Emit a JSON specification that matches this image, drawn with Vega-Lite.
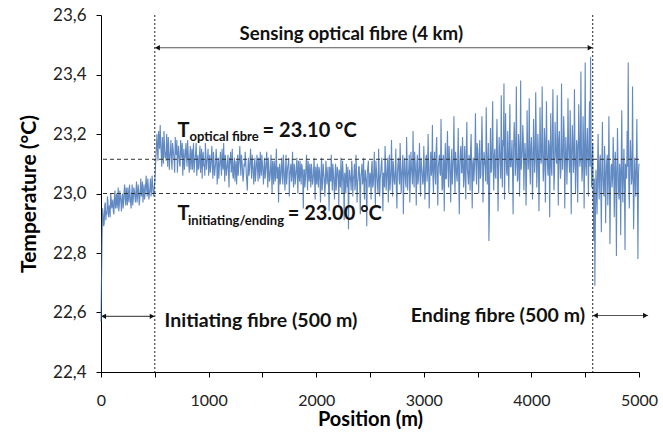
{
  "$schema": "https://vega.github.io/schema/vega-lite/v6.json",
  "autosize": {"type": "none"},
  "width": 538,
  "height": 357,
  "padding": {"left": 101, "top": 15, "right": 24, "bottom": 62},
  "config": {"view": {"stroke": null}, "font": "Lato"},
  "layer": [
    {
      "data": {"values": [
{"pos":0,"temp":22.57},{"pos":10,"temp":22.86},{"pos":20,"temp":22.93},{"pos":30,"temp":22.90},{"pos":40,"temp":22.97},{"pos":50,"temp":22.94},{"pos":60,"temp":22.99},{"pos":70,"temp":22.92},{"pos":80,"temp":22.96},{"pos":90,"temp":23.00},
{"pos":100,"temp":22.95},{"pos":110,"temp":22.98},{"pos":120,"temp":22.93},{"pos":130,"temp":23.01},{"pos":140,"temp":22.97},{"pos":150,"temp":22.95},{"pos":160,"temp":23.02},{"pos":170,"temp":22.96},{"pos":180,"temp":22.99},{"pos":190,"temp":22.94},
{"pos":200,"temp":23.00},{"pos":210,"temp":22.97},{"pos":220,"temp":23.03},{"pos":230,"temp":22.96},{"pos":240,"temp":22.99},{"pos":250,"temp":23.02},{"pos":260,"temp":22.97},{"pos":270,"temp":23.00},{"pos":280,"temp":22.95},{"pos":290,"temp":23.03},
{"pos":300,"temp":22.98},{"pos":310,"temp":23.01},{"pos":320,"temp":22.97},{"pos":330,"temp":23.04},{"pos":340,"temp":22.99},{"pos":350,"temp":23.01},{"pos":360,"temp":22.98},{"pos":370,"temp":23.05},{"pos":380,"temp":23.00},{"pos":390,"temp":22.97},
{"pos":400,"temp":23.03},{"pos":410,"temp":23.00},{"pos":420,"temp":23.06},{"pos":430,"temp":22.99},{"pos":440,"temp":23.02},{"pos":450,"temp":23.00},{"pos":460,"temp":23.05},{"pos":470,"temp":23.01},{"pos":480,"temp":23.03},{"pos":490,"temp":22.99},
{"pos":500,"temp":23.04},{"pos":510,"temp":23.12},{"pos":520,"temp":23.20},{"pos":530,"temp":23.11},{"pos":540,"temp":23.18},{"pos":550,"temp":23.23},{"pos":560,"temp":23.13},{"pos":570,"temp":23.19},{"pos":580,"temp":23.10},{"pos":590,"temp":23.17},
{"pos":600,"temp":23.14},{"pos":610,"temp":23.20},{"pos":620,"temp":23.09},{"pos":630,"temp":23.16},{"pos":640,"temp":23.12},{"pos":650,"temp":23.18},{"pos":660,"temp":23.08},{"pos":670,"temp":23.15},{"pos":680,"temp":23.11},{"pos":690,"temp":23.19},
{"pos":700,"temp":23.13},{"pos":710,"temp":23.07},{"pos":720,"temp":23.16},{"pos":730,"temp":23.10},{"pos":740,"temp":23.18},{"pos":750,"temp":23.12},{"pos":760,"temp":23.06},{"pos":770,"temp":23.15},{"pos":780,"temp":23.11},{"pos":790,"temp":23.17},
{"pos":800,"temp":23.09},{"pos":810,"temp":23.14},{"pos":820,"temp":23.07},{"pos":830,"temp":23.16},{"pos":840,"temp":23.12},{"pos":850,"temp":23.08},{"pos":860,"temp":23.17},{"pos":870,"temp":23.10},{"pos":880,"temp":23.14},{"pos":890,"temp":23.06},
{"pos":900,"temp":23.13},{"pos":910,"temp":23.09},{"pos":920,"temp":23.16},{"pos":930,"temp":23.11},{"pos":940,"temp":23.05},{"pos":950,"temp":23.14},{"pos":960,"temp":23.10},{"pos":970,"temp":23.17},{"pos":980,"temp":23.08},{"pos":990,"temp":23.12},
{"pos":1000,"temp":23.06},{"pos":1010,"temp":23.13},{"pos":1020,"temp":23.09},{"pos":1030,"temp":23.16},{"pos":1040,"temp":23.05},{"pos":1050,"temp":23.11},{"pos":1060,"temp":23.08},{"pos":1070,"temp":23.15},{"pos":1080,"temp":23.03},{"pos":1090,"temp":23.12},
{"pos":1100,"temp":23.09},{"pos":1110,"temp":23.14},{"pos":1120,"temp":23.06},{"pos":1130,"temp":23.10},{"pos":1140,"temp":23.17},{"pos":1150,"temp":23.04},{"pos":1160,"temp":23.11},{"pos":1170,"temp":23.08},{"pos":1180,"temp":23.13},{"pos":1190,"temp":23.02},
{"pos":1200,"temp":23.10},{"pos":1210,"temp":23.07},{"pos":1220,"temp":23.15},{"pos":1230,"temp":23.05},{"pos":1240,"temp":23.12},{"pos":1250,"temp":23.08},{"pos":1260,"temp":23.03},{"pos":1270,"temp":23.13},{"pos":1280,"temp":23.09},{"pos":1290,"temp":23.16},
{"pos":1300,"temp":23.06},{"pos":1310,"temp":23.11},{"pos":1320,"temp":23.04},{"pos":1330,"temp":23.10},{"pos":1340,"temp":23.14},{"pos":1350,"temp":23.07},{"pos":1360,"temp":23.01},{"pos":1370,"temp":23.12},{"pos":1380,"temp":23.08},{"pos":1390,"temp":23.15},
{"pos":1400,"temp":23.05},{"pos":1410,"temp":23.10},{"pos":1420,"temp":23.03},{"pos":1430,"temp":23.12},{"pos":1440,"temp":23.07},{"pos":1450,"temp":23.13},{"pos":1460,"temp":23.04},{"pos":1470,"temp":23.09},{"pos":1480,"temp":23.14},{"pos":1490,"temp":23.06},
{"pos":1500,"temp":23.10},{"pos":1510,"temp":23.03},{"pos":1520,"temp":23.12},{"pos":1530,"temp":23.07},{"pos":1540,"temp":23.14},{"pos":1550,"temp":23.02},{"pos":1560,"temp":23.09},{"pos":1570,"temp":23.05},{"pos":1580,"temp":23.13},{"pos":1590,"temp":23.00},
{"pos":1600,"temp":23.08},{"pos":1610,"temp":23.11},{"pos":1620,"temp":23.04},{"pos":1630,"temp":23.15},{"pos":1640,"temp":23.06},{"pos":1650,"temp":22.97},{"pos":1660,"temp":23.10},{"pos":1670,"temp":23.05},{"pos":1680,"temp":23.12},{"pos":1690,"temp":23.03},
{"pos":1700,"temp":23.09},{"pos":1710,"temp":23.01},{"pos":1720,"temp":23.13},{"pos":1730,"temp":23.06},{"pos":1740,"temp":23.10},{"pos":1750,"temp":22.99},{"pos":1760,"temp":23.08},{"pos":1770,"temp":23.04},{"pos":1780,"temp":23.14},{"pos":1790,"temp":23.02},
{"pos":1800,"temp":23.09},{"pos":1810,"temp":23.06},{"pos":1820,"temp":23.12},{"pos":1830,"temp":23.00},{"pos":1840,"temp":23.07},{"pos":1850,"temp":23.11},{"pos":1860,"temp":23.03},{"pos":1870,"temp":23.09},{"pos":1880,"temp":22.95},{"pos":1890,"temp":23.08},
{"pos":1900,"temp":23.05},{"pos":1910,"temp":23.13},{"pos":1920,"temp":23.01},{"pos":1930,"temp":23.07},{"pos":1940,"temp":23.10},{"pos":1950,"temp":23.02},{"pos":1960,"temp":23.08},{"pos":1970,"temp":23.04},{"pos":1980,"temp":23.12},{"pos":1990,"temp":22.98},
{"pos":2000,"temp":23.06},{"pos":2010,"temp":23.10},{"pos":2020,"temp":23.02},{"pos":2030,"temp":23.08},{"pos":2040,"temp":22.97},{"pos":2050,"temp":23.12},{"pos":2060,"temp":23.04},{"pos":2070,"temp":23.07},{"pos":2080,"temp":22.99},{"pos":2090,"temp":23.11},
{"pos":2100,"temp":23.03},{"pos":2110,"temp":23.09},{"pos":2120,"temp":22.94},{"pos":2130,"temp":23.06},{"pos":2140,"temp":23.13},{"pos":2150,"temp":23.01},{"pos":2160,"temp":23.07},{"pos":2170,"temp":22.98},{"pos":2180,"temp":23.10},{"pos":2190,"temp":23.04},
{"pos":2200,"temp":23.08},{"pos":2210,"temp":22.96},{"pos":2220,"temp":23.06},{"pos":2230,"temp":23.12},{"pos":2240,"temp":23.00},{"pos":2250,"temp":23.07},{"pos":2260,"temp":22.91},{"pos":2270,"temp":23.05},{"pos":2280,"temp":23.10},{"pos":2290,"temp":23.02},
{"pos":2300,"temp":22.88},{"pos":2310,"temp":23.08},{"pos":2320,"temp":23.04},{"pos":2330,"temp":23.11},{"pos":2340,"temp":22.99},{"pos":2350,"temp":23.06},{"pos":2360,"temp":23.01},{"pos":2370,"temp":23.13},{"pos":2380,"temp":22.97},{"pos":2390,"temp":23.05},
{"pos":2400,"temp":23.09},{"pos":2410,"temp":22.93},{"pos":2420,"temp":23.07},{"pos":2430,"temp":23.03},{"pos":2440,"temp":23.12},{"pos":2450,"temp":22.98},{"pos":2460,"temp":23.06},{"pos":2470,"temp":22.89},{"pos":2480,"temp":23.09},{"pos":2490,"temp":23.02},
{"pos":2500,"temp":23.07},{"pos":2510,"temp":22.98},{"pos":2520,"temp":23.11},{"pos":2530,"temp":23.03},{"pos":2540,"temp":23.14},{"pos":2550,"temp":22.96},{"pos":2560,"temp":23.08},{"pos":2570,"temp":23.02},{"pos":2580,"temp":23.15},{"pos":2590,"temp":22.99},
{"pos":2600,"temp":23.07},{"pos":2610,"temp":23.12},{"pos":2620,"temp":22.94},{"pos":2630,"temp":23.06},{"pos":2640,"temp":23.16},{"pos":2650,"temp":23.01},{"pos":2660,"temp":23.09},{"pos":2670,"temp":22.97},{"pos":2680,"temp":23.13},{"pos":2690,"temp":23.04},
{"pos":2700,"temp":23.18},{"pos":2710,"temp":22.99},{"pos":2720,"temp":23.08},{"pos":2730,"temp":23.03},{"pos":2740,"temp":23.15},{"pos":2750,"temp":22.95},{"pos":2760,"temp":23.10},{"pos":2770,"temp":23.05},{"pos":2780,"temp":23.17},{"pos":2790,"temp":23.00},
{"pos":2800,"temp":23.09},{"pos":2810,"temp":22.93},{"pos":2820,"temp":23.12},{"pos":2830,"temp":23.04},{"pos":2840,"temp":23.19},{"pos":2850,"temp":23.01},{"pos":2860,"temp":23.08},{"pos":2870,"temp":22.97},{"pos":2880,"temp":23.14},{"pos":2890,"temp":23.06},
{"pos":2900,"temp":23.21},{"pos":2910,"temp":23.02},{"pos":2920,"temp":23.10},{"pos":2930,"temp":22.96},{"pos":2940,"temp":23.13},{"pos":2950,"temp":23.05},{"pos":2960,"temp":23.17},{"pos":2970,"temp":22.99},{"pos":2980,"temp":23.09},{"pos":2990,"temp":23.03},
{"pos":3000,"temp":23.16},{"pos":3010,"temp":22.98},{"pos":3020,"temp":23.12},{"pos":3030,"temp":23.04},{"pos":3040,"temp":23.20},{"pos":3050,"temp":22.95},{"pos":3060,"temp":23.10},{"pos":3070,"temp":23.06},{"pos":3080,"temp":23.23},{"pos":3090,"temp":23.00},
{"pos":3100,"temp":23.14},{"pos":3110,"temp":23.03},{"pos":3120,"temp":23.19},{"pos":3130,"temp":22.96},{"pos":3140,"temp":23.11},{"pos":3150,"temp":23.07},{"pos":3160,"temp":23.25},{"pos":3170,"temp":23.01},{"pos":3180,"temp":23.13},{"pos":3190,"temp":22.94},
{"pos":3200,"temp":23.17},{"pos":3210,"temp":23.05},{"pos":3220,"temp":23.21},{"pos":3230,"temp":23.02},{"pos":3240,"temp":23.12},{"pos":3250,"temp":22.97},{"pos":3260,"temp":23.15},{"pos":3270,"temp":23.08},{"pos":3280,"temp":23.26},{"pos":3290,"temp":23.00},
{"pos":3300,"temp":23.11},{"pos":3310,"temp":23.04},{"pos":3320,"temp":23.22},{"pos":3330,"temp":22.93},{"pos":3340,"temp":23.14},{"pos":3350,"temp":23.07},{"pos":3360,"temp":23.19},{"pos":3370,"temp":23.02},{"pos":3380,"temp":23.16},{"pos":3390,"temp":22.98},
{"pos":3400,"temp":23.24},{"pos":3410,"temp":23.06},{"pos":3420,"temp":23.13},{"pos":3430,"temp":23.01},{"pos":3440,"temp":23.20},{"pos":3450,"temp":22.95},{"pos":3460,"temp":23.12},{"pos":3470,"temp":23.08},{"pos":3480,"temp":23.27},{"pos":3490,"temp":23.03},
{"pos":3500,"temp":23.15},{"pos":3510,"temp":23.00},{"pos":3520,"temp":23.18},{"pos":3530,"temp":23.06},{"pos":3540,"temp":23.26},{"pos":3550,"temp":22.97},{"pos":3560,"temp":23.14},{"pos":3570,"temp":23.09},{"pos":3580,"temp":23.29},{"pos":3590,"temp":23.03},
{"pos":3600,"temp":23.17},{"pos":3610,"temp":22.95},{"pos":3620,"temp":23.22},{"pos":3630,"temp":23.08},{"pos":3640,"temp":23.31},{"pos":3650,"temp":23.01},{"pos":3660,"temp":23.15},{"pos":3670,"temp":23.05},{"pos":3680,"temp":23.25},{"pos":3690,"temp":22.94},
{"pos":3700,"temp":23.19},{"pos":3710,"temp":23.10},{"pos":3720,"temp":23.33},{"pos":3730,"temp":23.02},{"pos":3740,"temp":23.16},{"pos":3750,"temp":22.98},{"pos":3760,"temp":23.27},{"pos":3770,"temp":23.07},{"pos":3780,"temp":23.21},{"pos":3790,"temp":23.00},
{"pos":3800,"temp":23.30},{"pos":3810,"temp":23.09},{"pos":3820,"temp":23.18},{"pos":3830,"temp":22.93},{"pos":3840,"temp":23.24},{"pos":3850,"temp":23.06},{"pos":3860,"temp":23.36},{"pos":3870,"temp":23.04},{"pos":3880,"temp":23.20},{"pos":3890,"temp":22.99},
{"pos":3900,"temp":23.38},{"pos":3910,"temp":23.11},{"pos":3920,"temp":23.23},{"pos":3930,"temp":23.01},{"pos":3940,"temp":23.17},{"pos":3950,"temp":22.96},{"pos":3960,"temp":23.28},{"pos":3970,"temp":23.08},{"pos":3980,"temp":23.32},{"pos":3990,"temp":23.03},
{"pos":4000,"temp":23.19},{"pos":4010,"temp":22.98},{"pos":4020,"temp":23.25},{"pos":4030,"temp":23.07},{"pos":4040,"temp":23.34},{"pos":4050,"temp":23.02},{"pos":4060,"temp":23.20},{"pos":4070,"temp":22.94},{"pos":4080,"temp":23.29},{"pos":4090,"temp":23.10},
{"pos":4100,"temp":23.36},{"pos":4110,"temp":23.04},{"pos":4120,"temp":23.22},{"pos":4130,"temp":22.97},{"pos":4140,"temp":23.31},{"pos":4150,"temp":23.09},{"pos":4160,"temp":23.18},{"pos":4170,"temp":22.92},{"pos":4180,"temp":23.27},{"pos":4190,"temp":23.06},
{"pos":4200,"temp":23.35},{"pos":4210,"temp":23.01},{"pos":4220,"temp":23.24},{"pos":4230,"temp":23.12},{"pos":4240,"temp":23.33},{"pos":4250,"temp":22.96},{"pos":4260,"temp":23.21},{"pos":4270,"temp":23.05},{"pos":4280,"temp":23.37},{"pos":4290,"temp":23.08},
{"pos":4300,"temp":23.26},{"pos":4310,"temp":22.95},{"pos":4320,"temp":23.19},{"pos":4330,"temp":23.03},{"pos":4340,"temp":23.32},{"pos":4350,"temp":23.11},{"pos":4360,"temp":23.28},{"pos":4370,"temp":22.93},{"pos":4380,"temp":23.23},{"pos":4390,"temp":23.07},
{"pos":4400,"temp":23.35},{"pos":4410,"temp":23.00},{"pos":4420,"temp":23.18},{"pos":4430,"temp":22.97},{"pos":4440,"temp":23.30},{"pos":4450,"temp":23.09},{"pos":4460,"temp":23.41},{"pos":4470,"temp":23.04},{"pos":4480,"temp":23.26},{"pos":4490,"temp":22.95},
{"pos":4500,"temp":23.44},{"pos":4510,"temp":23.06},{"pos":4520,"temp":23.22},{"pos":4530,"temp":22.99},{"pos":4540,"temp":23.31},{"pos":4550,"temp":23.46},{"pos":4560,"temp":23.02},{"pos":4570,"temp":23.17},{"pos":4580,"temp":22.84},{"pos":4590,"temp":22.69},
{"pos":4600,"temp":23.08},{"pos":4610,"temp":22.93},{"pos":4620,"temp":23.20},{"pos":4630,"temp":22.98},{"pos":4640,"temp":23.13},{"pos":4650,"temp":22.87},{"pos":4660,"temp":23.24},{"pos":4670,"temp":23.01},{"pos":4680,"temp":23.16},{"pos":4690,"temp":22.90},
{"pos":4700,"temp":23.11},{"pos":4710,"temp":22.96},{"pos":4720,"temp":23.26},{"pos":4730,"temp":22.83},{"pos":4740,"temp":23.09},{"pos":4750,"temp":23.02},{"pos":4760,"temp":23.19},{"pos":4770,"temp":22.92},{"pos":4780,"temp":23.14},{"pos":4790,"temp":22.79},
{"pos":4800,"temp":23.22},{"pos":4810,"temp":23.00},{"pos":4820,"temp":23.10},{"pos":4830,"temp":22.86},{"pos":4840,"temp":23.28},{"pos":4850,"temp":22.97},{"pos":4860,"temp":23.15},{"pos":4870,"temp":22.81},{"pos":4880,"temp":23.07},{"pos":4890,"temp":23.21},
{"pos":4900,"temp":23.44},{"pos":4910,"temp":22.95},{"pos":4920,"temp":23.18},{"pos":4930,"temp":23.03},{"pos":4940,"temp":23.36},{"pos":4950,"temp":22.88},{"pos":4960,"temp":23.12},{"pos":4970,"temp":22.99},{"pos":4980,"temp":23.25},{"pos":4990,"temp":22.78},
{"pos":5000,"temp":23.10},
{"pos":5,"temp":22.72},{"pos":15,"temp":22.95},{"pos":25,"temp":22.89},{"pos":35,"temp":22.96},{"pos":45,"temp":22.91},{"pos":55,"temp":22.93},{"pos":65,"temp":22.97},{"pos":75,"temp":22.95},{"pos":85,"temp":22.92},{"pos":95,"temp":22.98},
{"pos":105,"temp":22.96},{"pos":115,"temp":22.94},{"pos":125,"temp":22.99},{"pos":135,"temp":22.95},{"pos":145,"temp":23.00},{"pos":155,"temp":22.98},{"pos":165,"temp":22.94},{"pos":175,"temp":23.01},{"pos":185,"temp":22.97},{"pos":195,"temp":22.99},
{"pos":205,"temp":22.95},{"pos":215,"temp":23.01},{"pos":225,"temp":22.98},{"pos":235,"temp":23.02},{"pos":245,"temp":22.96},{"pos":255,"temp":22.99},{"pos":265,"temp":23.03},{"pos":275,"temp":22.97},{"pos":285,"temp":23.00},{"pos":295,"temp":22.96},
{"pos":305,"temp":23.02},{"pos":315,"temp":22.99},{"pos":325,"temp":23.01},{"pos":335,"temp":22.97},{"pos":345,"temp":23.03},{"pos":355,"temp":22.96},{"pos":365,"temp":23.01},{"pos":375,"temp":22.99},{"pos":385,"temp":23.04},{"pos":395,"temp":23.00},
{"pos":405,"temp":22.98},{"pos":415,"temp":23.03},{"pos":425,"temp":23.01},{"pos":435,"temp":23.05},{"pos":445,"temp":22.98},{"pos":455,"temp":23.02},{"pos":465,"temp":22.99},{"pos":475,"temp":23.06},{"pos":485,"temp":23.00},{"pos":495,"temp":23.02},
{"pos":505,"temp":23.08},{"pos":515,"temp":23.16},{"pos":525,"temp":23.14},{"pos":535,"temp":23.21},{"pos":545,"temp":23.15},{"pos":555,"temp":23.17},{"pos":565,"temp":23.09},{"pos":575,"temp":23.14},{"pos":585,"temp":23.21},{"pos":595,"temp":23.12},
{"pos":605,"temp":23.11},{"pos":615,"temp":23.15},{"pos":625,"temp":23.19},{"pos":635,"temp":23.08},{"pos":645,"temp":23.14},{"pos":655,"temp":23.11},{"pos":665,"temp":23.17},{"pos":675,"temp":23.13},{"pos":685,"temp":23.07},{"pos":695,"temp":23.14},
{"pos":705,"temp":23.18},{"pos":715,"temp":23.12},{"pos":725,"temp":23.13},{"pos":735,"temp":23.09},{"pos":745,"temp":23.15},{"pos":755,"temp":23.17},{"pos":765,"temp":23.11},{"pos":775,"temp":23.08},{"pos":785,"temp":23.14},{"pos":795,"temp":23.12},
{"pos":805,"temp":23.18},{"pos":815,"temp":23.10},{"pos":825,"temp":23.12},{"pos":835,"temp":23.08},{"pos":845,"temp":23.15},{"pos":855,"temp":23.13},{"pos":865,"temp":23.07},{"pos":875,"temp":23.12},{"pos":885,"temp":23.17},{"pos":895,"temp":23.10},
{"pos":905,"temp":23.08},{"pos":915,"temp":23.13},{"pos":925,"temp":23.07},{"pos":935,"temp":23.15},{"pos":945,"temp":23.12},{"pos":955,"temp":23.09},{"pos":965,"temp":23.06},{"pos":975,"temp":23.13},{"pos":985,"temp":23.11},{"pos":995,"temp":23.15},
{"pos":1005,"temp":23.10},{"pos":1015,"temp":23.07},{"pos":1025,"temp":23.12},{"pos":1035,"temp":23.09},{"pos":1045,"temp":23.14},{"pos":1055,"temp":23.06},{"pos":1065,"temp":23.10},{"pos":1075,"temp":23.12},{"pos":1085,"temp":23.08},{"pos":1095,"temp":23.05},
{"pos":1105,"temp":23.11},{"pos":1115,"temp":23.09},{"pos":1125,"temp":23.15},{"pos":1135,"temp":23.08},{"pos":1145,"temp":23.10},{"pos":1155,"temp":23.13},{"pos":1165,"temp":23.06},{"pos":1175,"temp":23.10},{"pos":1185,"temp":23.07},{"pos":1195,"temp":23.12},
{"pos":1205,"temp":23.14},{"pos":1215,"temp":23.09},{"pos":1225,"temp":23.06},{"pos":1235,"temp":23.10},{"pos":1245,"temp":23.04},{"pos":1255,"temp":23.11},{"pos":1265,"temp":23.08},{"pos":1275,"temp":23.06},{"pos":1285,"temp":23.12},{"pos":1295,"temp":23.10},
{"pos":1305,"temp":23.13},{"pos":1315,"temp":23.08},{"pos":1325,"temp":23.06},{"pos":1335,"temp":23.09},{"pos":1345,"temp":23.11},{"pos":1355,"temp":23.04},{"pos":1365,"temp":23.08},{"pos":1375,"temp":23.06},{"pos":1385,"temp":23.11},{"pos":1395,"temp":23.09},
{"pos":1405,"temp":23.13},{"pos":1415,"temp":23.07},{"pos":1425,"temp":23.09},{"pos":1435,"temp":23.04},{"pos":1445,"temp":23.10},{"pos":1455,"temp":23.08},{"pos":1465,"temp":23.12},{"pos":1475,"temp":23.05},{"pos":1485,"temp":23.09},{"pos":1495,"temp":23.13},
{"pos":1505,"temp":23.07},{"pos":1515,"temp":23.09},{"pos":1525,"temp":23.05},{"pos":1535,"temp":23.10},{"pos":1545,"temp":23.08},{"pos":1555,"temp":23.12},{"pos":1565,"temp":23.04},{"pos":1575,"temp":23.08},{"pos":1585,"temp":23.06},{"pos":1595,"temp":23.11},
{"pos":1605,"temp":23.03},{"pos":1615,"temp":23.08},{"pos":1625,"temp":23.10},{"pos":1635,"temp":23.05},{"pos":1645,"temp":23.09},{"pos":1655,"temp":23.07},{"pos":1665,"temp":23.03},{"pos":1675,"temp":23.09},{"pos":1685,"temp":23.06},{"pos":1695,"temp":23.13},
{"pos":1705,"temp":23.05},{"pos":1715,"temp":23.08},{"pos":1725,"temp":23.03},{"pos":1735,"temp":23.09},{"pos":1745,"temp":23.12},{"pos":1755,"temp":23.06},{"pos":1765,"temp":23.10},{"pos":1775,"temp":23.07},{"pos":1785,"temp":23.05},{"pos":1795,"temp":23.10},
{"pos":1805,"temp":23.03},{"pos":1815,"temp":23.08},{"pos":1825,"temp":23.05},{"pos":1835,"temp":23.11},{"pos":1845,"temp":23.04},{"pos":1855,"temp":23.07},{"pos":1865,"temp":23.10},{"pos":1875,"temp":23.05},{"pos":1885,"temp":23.08},{"pos":1895,"temp":23.02},
{"pos":1905,"temp":23.09},{"pos":1915,"temp":23.06},{"pos":1925,"temp":23.11},{"pos":1935,"temp":23.04},{"pos":1945,"temp":23.07},{"pos":1955,"temp":23.10},{"pos":1965,"temp":23.03},{"pos":1975,"temp":23.07},{"pos":1985,"temp":23.05},{"pos":1995,"temp":23.09},
{"pos":2005,"temp":23.03},{"pos":2015,"temp":23.06},{"pos":2025,"temp":23.09},{"pos":2035,"temp":23.04},{"pos":2045,"temp":23.07},{"pos":2055,"temp":23.01},{"pos":2065,"temp":23.10},{"pos":2075,"temp":23.05},{"pos":2085,"temp":23.03},{"pos":2095,"temp":23.08},
{"pos":2105,"temp":23.06},{"pos":2115,"temp":23.02},{"pos":2125,"temp":23.09},{"pos":2135,"temp":23.04},{"pos":2145,"temp":23.07},{"pos":2155,"temp":23.10},{"pos":2165,"temp":23.03},{"pos":2175,"temp":23.06},{"pos":2185,"temp":23.01},{"pos":2195,"temp":23.09},
{"pos":2205,"temp":23.05},{"pos":2215,"temp":23.08},{"pos":2225,"temp":23.02},{"pos":2235,"temp":23.06},{"pos":2245,"temp":23.11},{"pos":2255,"temp":23.04},{"pos":2265,"temp":23.07},{"pos":2275,"temp":23.00},{"pos":2285,"temp":23.06},{"pos":2295,"temp":23.09},
{"pos":2305,"temp":23.03},{"pos":2315,"temp":23.06},{"pos":2325,"temp":23.01},{"pos":2335,"temp":23.08},{"pos":2345,"temp":23.05},{"pos":2355,"temp":23.10},{"pos":2365,"temp":23.03},{"pos":2375,"temp":23.07},{"pos":2385,"temp":23.04},{"pos":2395,"temp":23.09},
{"pos":2405,"temp":23.02},{"pos":2415,"temp":23.06},{"pos":2425,"temp":23.10},{"pos":2435,"temp":23.05},{"pos":2445,"temp":23.01},{"pos":2455,"temp":23.08},{"pos":2465,"temp":23.04},{"pos":2475,"temp":23.07},{"pos":2485,"temp":23.11},{"pos":2495,"temp":23.03},
{"pos":2505,"temp":23.06},{"pos":2515,"temp":23.09},{"pos":2525,"temp":23.02},{"pos":2535,"temp":23.07},{"pos":2545,"temp":23.04},{"pos":2555,"temp":23.11},{"pos":2565,"temp":23.05},{"pos":2575,"temp":23.00},{"pos":2585,"temp":23.08},{"pos":2595,"temp":23.05},
{"pos":2605,"temp":23.10},{"pos":2615,"temp":23.03},{"pos":2625,"temp":23.07},{"pos":2635,"temp":23.02},{"pos":2645,"temp":23.09},{"pos":2655,"temp":23.05},{"pos":2665,"temp":23.12},{"pos":2675,"temp":23.06},{"pos":2685,"temp":23.01},{"pos":2695,"temp":23.08},
{"pos":2705,"temp":23.05},{"pos":2715,"temp":23.11},{"pos":2725,"temp":23.04},{"pos":2735,"temp":23.08},{"pos":2745,"temp":23.02},{"pos":2755,"temp":23.07},{"pos":2765,"temp":23.12},{"pos":2775,"temp":23.03},{"pos":2785,"temp":23.09},{"pos":2795,"temp":23.06},
{"pos":2805,"temp":23.13},{"pos":2815,"temp":23.04},{"pos":2825,"temp":23.08},{"pos":2835,"temp":23.02},{"pos":2845,"temp":23.10},{"pos":2855,"temp":23.06},{"pos":2865,"temp":23.13},{"pos":2875,"temp":23.05},{"pos":2885,"temp":23.09},{"pos":2895,"temp":23.03},
{"pos":2905,"temp":23.08},{"pos":2915,"temp":23.14},{"pos":2925,"temp":23.06},{"pos":2935,"temp":23.10},{"pos":2945,"temp":23.03},{"pos":2955,"temp":23.09},{"pos":2965,"temp":23.05},{"pos":2975,"temp":23.12},{"pos":2985,"temp":23.07},{"pos":2995,"temp":23.04},
{"pos":3005,"temp":23.08},{"pos":3015,"temp":23.05},{"pos":3025,"temp":23.13},{"pos":3035,"temp":23.07},{"pos":3045,"temp":23.10},{"pos":3055,"temp":23.03},{"pos":3065,"temp":23.14},{"pos":3075,"temp":23.08},{"pos":3085,"temp":23.05},{"pos":3095,"temp":23.11},
{"pos":3105,"temp":23.07},{"pos":3115,"temp":23.15},{"pos":3125,"temp":23.04},{"pos":3135,"temp":23.09},{"pos":3145,"temp":23.13},{"pos":3155,"temp":23.06},{"pos":3165,"temp":23.10},{"pos":3175,"temp":23.02},{"pos":3185,"temp":23.12},{"pos":3195,"temp":23.08},
{"pos":3205,"temp":23.05},{"pos":3215,"temp":23.13},{"pos":3225,"temp":23.09},{"pos":3235,"temp":23.16},{"pos":3245,"temp":23.06},{"pos":3255,"temp":23.10},{"pos":3265,"temp":23.03},{"pos":3275,"temp":23.12},{"pos":3285,"temp":23.08},{"pos":3295,"temp":23.14},
{"pos":3305,"temp":23.06},{"pos":3315,"temp":23.11},{"pos":3325,"temp":23.04},{"pos":3335,"temp":23.10},{"pos":3345,"temp":23.16},{"pos":3355,"temp":23.07},{"pos":3365,"temp":23.12},{"pos":3375,"temp":23.05},{"pos":3385,"temp":23.09},{"pos":3395,"temp":23.14},
{"pos":3405,"temp":23.08},{"pos":3415,"temp":23.03},{"pos":3425,"temp":23.11},{"pos":3435,"temp":23.15},{"pos":3445,"temp":23.07},{"pos":3455,"temp":23.10},{"pos":3465,"temp":23.04},{"pos":3475,"temp":23.13},{"pos":3485,"temp":23.09},{"pos":3495,"temp":23.17},
{"pos":3505,"temp":23.09},{"pos":3515,"temp":23.13},{"pos":3525,"temp":23.05},{"pos":3535,"temp":23.12},{"pos":3545,"temp":23.16},{"pos":3555,"temp":23.08},{"pos":3565,"temp":23.11},{"pos":3575,"temp":23.04},{"pos":3585,"temp":23.14},{"pos":3595,"temp":23.09},
{"pos":3605,"temp":22.84},{"pos":3615,"temp":23.12},{"pos":3625,"temp":23.07},{"pos":3635,"temp":23.17},{"pos":3645,"temp":23.10},{"pos":3655,"temp":23.13},{"pos":3665,"temp":23.06},{"pos":3675,"temp":23.15},{"pos":3685,"temp":23.11},{"pos":3695,"temp":23.08},
{"pos":3705,"temp":23.14},{"pos":3715,"temp":23.05},{"pos":3725,"temp":23.12},{"pos":3735,"temp":23.18},{"pos":3745,"temp":23.37},{"pos":3755,"temp":23.10},{"pos":3765,"temp":23.14},{"pos":3775,"temp":23.06},{"pos":3785,"temp":23.12},{"pos":3795,"temp":23.16},
{"pos":3805,"temp":23.09},{"pos":3815,"temp":23.13},{"pos":3825,"temp":23.07},{"pos":3835,"temp":23.15},{"pos":3845,"temp":23.19},{"pos":3855,"temp":23.10},{"pos":3865,"temp":23.13},{"pos":3875,"temp":23.05},{"pos":3885,"temp":23.16},{"pos":3895,"temp":23.11},
{"pos":3905,"temp":23.08},{"pos":3915,"temp":23.14},{"pos":3925,"temp":23.18},{"pos":3935,"temp":23.10},{"pos":3945,"temp":23.13},{"pos":3955,"temp":23.06},{"pos":3965,"temp":23.15},{"pos":3975,"temp":23.12},{"pos":3985,"temp":23.09},{"pos":3995,"temp":23.16},
{"pos":4005,"temp":23.13},{"pos":4015,"temp":23.08},{"pos":4025,"temp":23.16},{"pos":4035,"temp":23.11},{"pos":4045,"temp":23.19},{"pos":4055,"temp":23.09},{"pos":4065,"temp":23.14},{"pos":4075,"temp":23.06},{"pos":4085,"temp":23.17},{"pos":4095,"temp":23.12},
{"pos":4105,"temp":23.15},{"pos":4115,"temp":23.08},{"pos":4125,"temp":23.18},{"pos":4135,"temp":23.11},{"pos":4145,"temp":23.14},{"pos":4155,"temp":23.06},{"pos":4165,"temp":23.16},{"pos":4175,"temp":23.12},{"pos":4185,"temp":23.09},{"pos":4195,"temp":23.19},
{"pos":4205,"temp":23.13},{"pos":4215,"temp":23.07},{"pos":4225,"temp":23.16},{"pos":4235,"temp":23.10},{"pos":4245,"temp":23.14},{"pos":4255,"temp":23.18},{"pos":4265,"temp":23.11},{"pos":4275,"temp":23.08},{"pos":4285,"temp":23.15},{"pos":4295,"temp":23.13},
{"pos":4305,"temp":23.19},{"pos":4315,"temp":23.09},{"pos":4325,"temp":23.14},{"pos":4335,"temp":23.11},{"pos":4345,"temp":23.17},{"pos":4355,"temp":23.07},{"pos":4365,"temp":23.15},{"pos":4375,"temp":23.12},{"pos":4385,"temp":23.18},{"pos":4395,"temp":23.10},
{"pos":4405,"temp":23.14},{"pos":4415,"temp":23.08},{"pos":4425,"temp":23.16},{"pos":4435,"temp":23.12},{"pos":4445,"temp":23.19},{"pos":4455,"temp":23.11},{"pos":4465,"temp":23.15},{"pos":4475,"temp":23.08},{"pos":4485,"temp":23.17},{"pos":4495,"temp":23.13},
{"pos":4505,"temp":23.10},{"pos":4515,"temp":23.16},{"pos":4525,"temp":23.12},{"pos":4535,"temp":23.18},{"pos":4545,"temp":23.09},{"pos":4555,"temp":23.14},{"pos":4565,"temp":23.10},
{"pos":4575,"temp":22.98},{"pos":4585,"temp":23.05},{"pos":4595,"temp":22.92},{"pos":4605,"temp":23.02},{"pos":4615,"temp":23.09},{"pos":4625,"temp":23.04},{"pos":4635,"temp":23.11},{"pos":4645,"temp":23.03},{"pos":4655,"temp":23.08},{"pos":4665,"temp":23.06},
{"pos":4675,"temp":22.99},{"pos":4685,"temp":23.09},{"pos":4695,"temp":23.05},{"pos":4705,"temp":23.13},{"pos":4715,"temp":23.04},{"pos":4725,"temp":23.08},{"pos":4735,"temp":23.01},{"pos":4745,"temp":23.10},{"pos":4755,"temp":23.06},{"pos":4765,"temp":23.12},
{"pos":4775,"temp":23.03},{"pos":4785,"temp":23.07},{"pos":4795,"temp":23.05},{"pos":4805,"temp":23.10},{"pos":4815,"temp":22.98},{"pos":4825,"temp":23.07},{"pos":4835,"temp":23.11},{"pos":4845,"temp":23.04},{"pos":4855,"temp":23.08},{"pos":4865,"temp":23.02},
{"pos":4875,"temp":23.10},{"pos":4885,"temp":23.05},{"pos":4895,"temp":23.09},{"pos":4905,"temp":23.03},{"pos":4915,"temp":23.07},{"pos":4925,"temp":23.12},{"pos":4935,"temp":23.05},{"pos":4945,"temp":23.08},{"pos":4955,"temp":23.01},{"pos":4965,"temp":23.06},
{"pos":4975,"temp":23.09},{"pos":4985,"temp":23.04},{"pos":4995,"temp":23.07}
      ]},
      "mark": {"type": "line", "color": "#3a6cb3", "strokeWidth": 1.1, "opacity": 0.8},
      "encoding": {
        "x": {"field": "pos", "type": "quantitative",
              "scale": {"domain": [0, 5000], "nice": false, "zero": false},
              "axis": {"title": "Position (m)", "values": [0,500,1000,1500,2000,2500,3000,3500,4000,4500,5000],
                       "labelExpr": "datum.value % 1000 == 0 ? datum.label : ''", "format": "d", "labelFlush": false,
                       "grid": false, "domainColor": "#000", "tickColor": "#000", "tickSize": 5,
                       "labelFont": "Lato", "labelFontSize": 16, "labelColor": "#222", "labelPadding": 15,
                       "titleFont": "Lato", "titleFontSize": 20, "titleFontWeight": "bold", "titleColor": "#000", "titlePadding": 1}},
        "y": {"field": "temp", "type": "quantitative",
              "scale": {"domain": [22.4, 23.6], "nice": false, "zero": false},
              "axis": {"title": "Temperature (°C)", "values": [22.4,22.6,22.8,23.0,23.2,23.4,23.6],
                       "labelExpr": "replace(format(datum.value, '.1f'), '.', ',')", "labelFlush": false,
                       "grid": false, "domainColor": "#000", "tickColor": "#000", "tickSize": 5,
                       "labelFont": "Lato", "labelFontSize": 17, "labelColor": "#222", "labelPadding": 10,
                       "titleFont": "Lato", "titleFontSize": 21, "titleFontWeight": "bold", "titleColor": "#000", "titlePadding": 13}}
      }
    },
    {
      "data": {"values": [{"temp": 23.115}, {"temp": 23.0}]},
      "mark": {"type": "rule", "color": "#333", "strokeWidth": 1, "strokeDash": [4, 3]},
      "encoding": {"y": {"field": "temp", "type": "quantitative"}}
    },
    {
      "data": {"values": [{"pos": 500}, {"pos": 4570}]},
      "mark": {"type": "rule", "color": "#222", "strokeWidth": 1, "strokeDash": [2, 2]},
      "encoding": {"x": {"field": "pos", "type": "quantitative"}}
    },
    {
      "data": {"values": [
        {"pos": 500, "pos2": 4570, "temp": 23.49},
        {"pos": 0, "pos2": 500, "temp": 22.587},
        {"pos": 4570, "pos2": 5085, "temp": 22.59}
      ]},
      "mark": {"type": "rule", "color": "#555", "strokeWidth": 1.2},
      "encoding": {
        "x": {"field": "pos", "type": "quantitative"},
        "x2": {"field": "pos2"},
        "y": {"field": "temp", "type": "quantitative"}
      }
    },
    {
      "data": {"values": [
        {"pos": 525, "temp": 23.49},
        {"pos": 25, "temp": 22.587},
        {"pos": 4595, "temp": 22.59}
      ]},
      "mark": {"type": "point", "shape": "triangle-left", "filled": true, "color": "#111", "size": 30, "opacity": 1},
      "encoding": {
        "x": {"field": "pos", "type": "quantitative"},
        "y": {"field": "temp", "type": "quantitative"}
      }
    },
    {
      "data": {"values": [
        {"pos": 4545, "temp": 23.49},
        {"pos": 475, "temp": 22.587},
        {"pos": 5060, "temp": 22.59}
      ]},
      "mark": {"type": "point", "shape": "triangle-right", "filled": true, "color": "#111", "size": 30, "opacity": 1},
      "encoding": {
        "x": {"field": "pos", "type": "quantitative"},
        "y": {"field": "temp", "type": "quantitative"}
      }
    },
    {
      "data": {"values": [
        {"pos": 2326, "temp": 23.516, "label": "Sensing optical fibre (4 km)"}
      ]},
      "mark": {"type": "text", "align": "center", "baseline": "alphabetic", "font": "Lato", "fontSize": 18.7, "fontWeight": "bold", "color": "#111"},
      "encoding": {
        "x": {"field": "pos", "type": "quantitative"},
        "y": {"field": "temp", "type": "quantitative"},
        "text": {"field": "label"}
      }
    },
    {
      "data": {"values": [
        {"pos": 591, "temp": 22.551, "label": "Initiating fibre (500 m)"}
      ]},
      "mark": {"type": "text", "align": "left", "baseline": "alphabetic", "font": "Lato", "fontSize": 19.5, "fontWeight": "bold", "color": "#111"},
      "encoding": {
        "x": {"field": "pos", "type": "quantitative"},
        "y": {"field": "temp", "type": "quantitative"},
        "text": {"field": "label"}
      }
    },
    {
      "data": {"values": [
        {"pos": 4498, "temp": 22.568, "label": "Ending fibre (500 m)"}
      ]},
      "mark": {"type": "text", "align": "right", "baseline": "alphabetic", "font": "Lato", "fontSize": 19.5, "fontWeight": "bold", "color": "#111"},
      "encoding": {
        "x": {"field": "pos", "type": "quantitative"},
        "y": {"field": "temp", "type": "quantitative"},
        "text": {"field": "label"}
      }
    },
    {
      "data": {"values": [
        {"pos": 712, "temp": 23.19, "label": "T"},
        {"pos": 1502, "temp": 23.19, "label": "= 23.10 °C"},
        {"pos": 712, "temp": 22.911, "label": "T"},
        {"pos": 1735, "temp": 22.911, "label": "= 23.00 °C"}
      ]},
      "mark": {"type": "text", "align": "left", "baseline": "alphabetic", "font": "Lato", "fontSize": 20, "fontWeight": "bold", "color": "#111"},
      "encoding": {
        "x": {"field": "pos", "type": "quantitative"},
        "y": {"field": "temp", "type": "quantitative"},
        "text": {"field": "label"}
      }
    },
    {
      "data": {"values": [
        {"pos": 823, "temp": 23.176, "label": "optical fibre"},
        {"pos": 809, "temp": 22.894, "label": "initiating/ending"}
      ]},
      "mark": {"type": "text", "align": "left", "baseline": "alphabetic", "font": "Lato", "fontSize": 13, "fontWeight": "bold", "color": "#111"},
      "encoding": {
        "x": {"field": "pos", "type": "quantitative"},
        "y": {"field": "temp", "type": "quantitative"},
        "text": {"field": "label"}
      }
    }
  ]
}
